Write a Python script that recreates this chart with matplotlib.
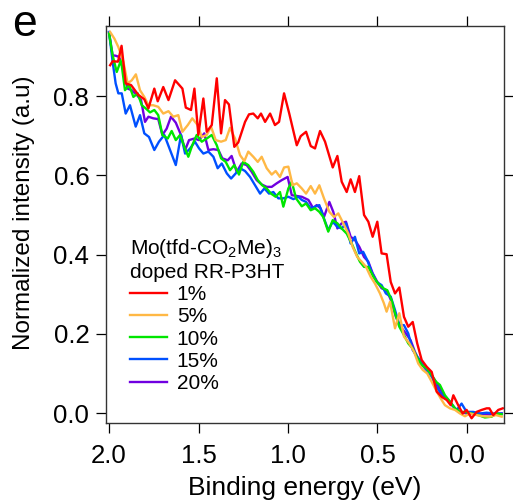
"""
Normalized UPS intensity near the valence band edge for
Mo(tfd-CO2Me)3 doped RR-P3HT at several doping levels.
"""

import matplotlib
matplotlib.use("Agg")
import matplotlib.pyplot as plt

# --- Fonts: Arial-like everywhere, including the subscripts in the legend title ---
plt.rcParams["font.family"] = ["Liberation Sans", "DejaVu Sans"]
plt.rcParams["mathtext.fontset"] = "custom"
plt.rcParams["mathtext.rm"] = "Liberation Sans"
plt.rcParams["mathtext.it"] = "Liberation Sans"
plt.rcParams["mathtext.default"] = "regular"

# --- Data (binding energy in eV, normalized intensity) ---
labels = ["1%", "5%", "10%", "15%", "20%"]
colors = ["#FF0000", "#FFB845", "#00E600", "#0050FF", "#7000E0"]

x_1 = [1.994, 1.98, 1.95, 1.93, 1.907, 1.877, 1.836, 1.803, 1.78, 1.747, 1.728, 1.697,
       1.668, 1.631, 1.59, 1.571, 1.542, 1.523, 1.501, 1.473, 1.454, 1.426, 1.398, 1.374,
       1.352, 1.33, 1.30, 1.278, 1.24, 1.218, 1.194, 1.169, 1.151, 1.128, 1.10, 1.073,
       1.05, 1.022, 0.993, 0.951, 0.929, 0.899, 0.873, 0.849, 0.821, 0.793, 0.75, 0.724,
       0.70, 0.672, 0.65, 0.626, 0.602, 0.575, 0.551, 0.527, 0.501, 0.477, 0.449, 0.426,
       0.402, 0.378, 0.352, 0.328, 0.303, 0.278, 0.253, 0.225, 0.197, 0.169, 0.141, 0.113,
       0.091, 0.076, 0.049, 0.024, 0.002, -0.026, -0.054, -0.082, -0.11, -0.125, -0.147,
       -0.175, -0.20]
y_1 = [0.878, 0.888, 0.887, 0.927, 0.832, 0.828, 0.803, 0.792, 0.769, 0.819, 0.787, 0.823,
       0.79, 0.84, 0.819, 0.771, 0.765, 0.819, 0.702, 0.794, 0.71, 0.727, 0.845, 0.706,
       0.79, 0.779, 0.672, 0.683, 0.735, 0.754, 0.756, 0.744, 0.756, 0.735, 0.756, 0.727,
       0.735, 0.807, 0.756, 0.676, 0.699, 0.71, 0.674, 0.668, 0.712, 0.685, 0.62, 0.649,
       0.584, 0.558, 0.59, 0.558, 0.598, 0.50, 0.483, 0.445, 0.483, 0.403, 0.401, 0.331,
       0.302, 0.317, 0.243, 0.218, 0.23, 0.176, 0.134, 0.117, 0.104, 0.054, 0.041, 0.033,
       0.02, 0.045, 0.02, -0.001, 0.008, -0.013, 0.003, 0.008, 0.012, 0.012, -0.005,
       0.008, 0.012]

x_5 = [1.994, 1.97, 1.948, 1.92, 1.896, 1.873, 1.85, 1.827, 1.803, 1.78, 1.753, 1.725,
       1.697, 1.668, 1.641, 1.613, 1.59, 1.56, 1.535, 1.505, 1.482, 1.454, 1.43, 1.404,
       1.374, 1.348, 1.324, 1.296, 1.268, 1.244, 1.222, 1.194, 1.169, 1.147, 1.119, 1.091,
       1.069, 1.045, 1.022, 0.998, 0.974, 0.951, 0.923, 0.899, 0.873, 0.849, 0.825, 0.799,
       0.769, 0.743, 0.719, 0.691, 0.663, 0.639, 0.613, 0.588, 0.564, 0.538, 0.514, 0.486,
       0.464, 0.449, 0.43, 0.402, 0.378, 0.352, 0.322, 0.296, 0.272, 0.247, 0.222, 0.197,
       0.173, 0.147, 0.123, 0.095, 0.067, 0.039, 0.011, -0.017, -0.054, -0.091, -0.128,
       -0.162, -0.194]
y_5 = [0.962, 0.945, 0.924, 0.887, 0.832, 0.84, 0.855, 0.815, 0.798, 0.777, 0.777, 0.773,
       0.756, 0.762, 0.748, 0.752, 0.71, 0.727, 0.744, 0.727, 0.697, 0.702, 0.723, 0.689,
       0.685, 0.689, 0.72, 0.693, 0.651, 0.636, 0.66, 0.647, 0.634, 0.647, 0.618, 0.602,
       0.611, 0.596, 0.62, 0.622, 0.575, 0.58, 0.567, 0.554, 0.573, 0.554, 0.575, 0.542,
       0.508, 0.495, 0.504, 0.479, 0.453, 0.42, 0.394, 0.382, 0.369, 0.344, 0.327, 0.302,
       0.277, 0.256, 0.281, 0.214, 0.252, 0.193, 0.176, 0.155, 0.125, 0.109, 0.10, 0.079,
       0.058, 0.037, 0.02, 0.012, 0.008, -0.001, -0.008, -0.001, -0.005, -0.008, -0.009,
       -0.005, -0.009]

x_10 = [2.0, 1.98, 1.957, 1.933, 1.911, 1.888, 1.864, 1.84, 1.817, 1.795, 1.771, 1.747,
        1.725, 1.702, 1.672, 1.65, 1.627, 1.603, 1.579, 1.557, 1.535, 1.51, 1.482, 1.454,
        1.426, 1.398, 1.374, 1.348, 1.324, 1.30, 1.274, 1.25, 1.222, 1.194, 1.169, 1.144,
        1.119, 1.095, 1.069, 1.045, 1.026, 0.998, 0.979, 0.955, 0.923, 0.899, 0.873, 0.849,
        0.825, 0.803, 0.775, 0.75, 0.724, 0.70, 0.672, 0.644, 0.62, 0.598, 0.575, 0.551,
        0.523, 0.496, 0.468, 0.445, 0.421, 0.402, 0.378, 0.352, 0.328, 0.303, 0.281, 0.253,
        0.225, 0.197, 0.173, 0.151, 0.123, 0.095, 0.067, 0.039, 0.011, -0.026, -0.063,
        -0.10, -0.138, -0.166, -0.194]
y_10 = [0.958, 0.903, 0.861, 0.891, 0.815, 0.828, 0.798, 0.807, 0.777, 0.769, 0.759, 0.765,
        0.752, 0.702, 0.693, 0.712, 0.689, 0.702, 0.672, 0.647, 0.676, 0.702, 0.685, 0.693,
        0.702, 0.676, 0.643, 0.634, 0.613, 0.626, 0.602, 0.634, 0.626, 0.609, 0.588, 0.575,
        0.567, 0.554, 0.546, 0.558, 0.521, 0.567, 0.584, 0.542, 0.522, 0.529, 0.512, 0.517,
        0.508, 0.495, 0.458, 0.487, 0.479, 0.466, 0.453, 0.428, 0.403, 0.382, 0.369, 0.369,
        0.344, 0.327, 0.315, 0.31, 0.285, 0.252, 0.218, 0.197, 0.176, 0.163, 0.142, 0.121,
        0.113, 0.096, 0.079, 0.071, 0.045, 0.029, 0.012, 0.003, 0.003, -0.001, -0.005,
        -0.011, -0.009, -0.001, -0.003]

x_15 = [2.0, 1.98, 1.963, 1.948, 1.929, 1.907, 1.883, 1.851, 1.827, 1.803, 1.777, 1.747,
        1.721, 1.691, 1.659, 1.627, 1.598, 1.575, 1.547, 1.52, 1.497, 1.473, 1.445, 1.417,
        1.393, 1.37, 1.342, 1.318, 1.292, 1.268, 1.24, 1.212, 1.184, 1.156, 1.132, 1.106,
        1.082, 1.054, 1.026, 0.998, 0.97, 0.942, 0.923, 0.899, 0.873, 0.849, 0.825, 0.799,
        0.775, 0.75, 0.724, 0.70, 0.676, 0.65, 0.626, 0.602, 0.58, 0.557, 0.533, 0.505,
        0.477, 0.453, 0.426, 0.402, 0.378, 0.352, 0.328, 0.303, 0.278, 0.253, 0.225, 0.197,
        0.169, 0.141, 0.113, 0.085, 0.057, 0.03, 0.002, -0.035, -0.073, -0.11, -0.147,
        -0.194]
y_15 = [0.962, 0.887, 0.832, 0.807, 0.807, 0.756, 0.777, 0.723, 0.752, 0.706, 0.697, 0.664,
        0.685, 0.702, 0.664, 0.626, 0.702, 0.655, 0.668, 0.685, 0.668, 0.655, 0.66, 0.647,
        0.618, 0.63, 0.605, 0.592, 0.605, 0.618, 0.611, 0.596, 0.575, 0.554, 0.567, 0.554,
        0.558, 0.542, 0.542, 0.546, 0.54, 0.546, 0.538, 0.533, 0.517, 0.521, 0.525, 0.491,
        0.462, 0.483, 0.47, 0.466, 0.479, 0.428, 0.445, 0.403, 0.407, 0.386, 0.357, 0.331,
        0.323, 0.302, 0.294, 0.26, 0.222, 0.222, 0.201, 0.159, 0.142, 0.129, 0.109, 0.092,
        0.066, 0.045, 0.037, 0.02, 0.008, 0.024, 0.003, 0.003, -0.001, 0.001, -0.001,
        -0.001]

x_20 = [2.0, 1.98, 1.963, 1.944, 1.92, 1.896, 1.873, 1.845, 1.821, 1.799, 1.78, 1.753,
        1.725, 1.702, 1.678, 1.654, 1.627, 1.598, 1.575, 1.553, 1.523, 1.497, 1.468, 1.445,
        1.417, 1.389, 1.367, 1.337, 1.315, 1.287, 1.259, 1.231, 1.203, 1.175, 1.147, 1.119,
        1.091, 1.063, 1.035, 1.002, 0.979, 0.951, 0.923, 0.886, 0.859, 0.84, 0.818, 0.799,
        0.769, 0.747, 0.724, 0.70, 0.676, 0.65, 0.626, 0.602, 0.575, 0.551, 0.527, 0.501,
        0.477, 0.449, 0.421, 0.397, 0.371, 0.341, 0.315, 0.291, 0.263, 0.235, 0.207, 0.179,
        0.151, 0.123, 0.095, 0.067, 0.039, 0.002, -0.054, -0.11, -0.157, -0.194]
y_20 = [0.961, 0.903, 0.902, 0.899, 0.87, 0.819, 0.815, 0.803, 0.79, 0.735, 0.748, 0.744,
        0.742, 0.702, 0.718, 0.748, 0.733, 0.702, 0.664, 0.689, 0.693, 0.689, 0.706, 0.664,
        0.666, 0.664, 0.643, 0.638, 0.649, 0.609, 0.63, 0.626, 0.609, 0.588, 0.577, 0.571,
        0.571, 0.58, 0.588, 0.596, 0.55, 0.548, 0.546, 0.538, 0.517, 0.525, 0.517, 0.495,
        0.533, 0.508, 0.466, 0.479, 0.483, 0.445, 0.437, 0.42, 0.394, 0.382, 0.353, 0.331,
        0.315, 0.31, 0.281, 0.243, 0.218, 0.201, 0.184, 0.155, 0.129, 0.113, 0.10, 0.083,
        0.062, 0.041, 0.029, 0.012, 0.003, -0.001, -0.001, -0.003, -0.003, -0.001]

series_x = [x_1, x_5, x_10, x_15, x_20]
series_y = [y_1, y_5, y_10, y_15, y_20]

x_ticks = [2.0, 1.5, 1.0, 0.5, 0.0]
y_ticks = [0.0, 0.2, 0.4, 0.6, 0.8]

# --- Figure with the axes box placed where the original sits ---
fig = plt.figure(figsize=(5.13, 5.04), dpi=100)
ax = fig.add_axes([106 / 513, 1 - 423 / 504, 398 / 513, 397 / 504])

# Draw 20% first so the 1% red curve ends up on top, like the original
for xs, ys, c, lab in reversed(list(zip(series_x, series_y, colors, labels))):
    ax.plot(xs, ys, color=c, lw=1.7, label=lab)

ax.set_xlim(2.017, -0.207)
ax.set_ylim(-0.025, 0.977)
ax.set_xticks(x_ticks)
ax.set_yticks(y_ticks)
ax.set_xticklabels([f"{v:.1f}" for v in x_ticks])
ax.set_yticklabels([f"{v:.1f}" for v in y_ticks])

# Igor-like frame: ticks outward on all four sides, labels only bottom/left
ax.tick_params(direction="out", length=7, width=0.9, labelsize=18.5, pad=5,
               top=True, right=True, labeltop=False, labelright=False)
ax.tick_params(axis="x", pad=8)
for sp in ax.spines.values():
    sp.set_linewidth(1.0)
    sp.set_color("#333333")

ax.set_xlabel("Binding energy (eV)", fontsize=19, labelpad=6)
ax.set_ylabel("Normalized intensity (a.u)", fontsize=17.5)
# ylabel anchor is the right-hand (baseline) side of the rotated text
ax.yaxis.set_label_coords(-0.178, 0.529)

# Legend with the sample description as a two-line title
handles, labs = ax.get_legend_handles_labels()
order = [labs.index(l) for l in labels]
leg = ax.legend([handles[i] for i in order], labels,
                title="Mo(tfd-CO$_2$Me)$_3$\ndoped RR-P3HT",
                loc="upper left", bbox_to_anchor=(0.06, 0.468),
                frameon=False, fontsize=15, title_fontsize=15,
                alignment="left", borderpad=0, borderaxespad=0,
                handlelength=1.8, handletextpad=0.45, labelspacing=0.15)

# Panel letter
fig.text(12 / 513, 1 - 36 / 504, "e", fontsize=32, ha="left", va="baseline")

fig.savefig("out.png", dpi=100)
